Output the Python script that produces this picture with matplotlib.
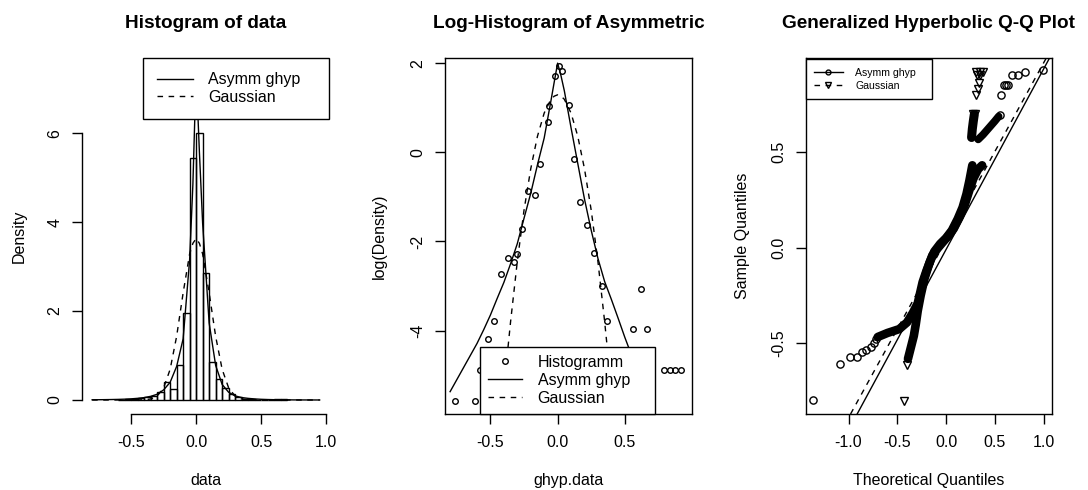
import numpy as np
import matplotlib
matplotlib.use('Agg')
import matplotlib.pyplot as plt

plt.rcParams['font.family'] = ['Liberation Sans', 'DejaVu Sans']
plt.rcParams['axes.unicode_minus'] = False

# histogram of the returns (bins of width 0.05)
hist_breaks = [-0.60, -0.55, -0.50, -0.45, -0.40, -0.35, -0.30, -0.25, -0.20,
               -0.15, -0.10, -0.05, 0.00, 0.05, 0.10, 0.15, 0.20, 0.25, 0.30,
               0.35, 0.40, 0.45, 0.50, 0.55, 0.60, 0.65, 0.70]
hist_density = [0.008, 0.012, 0.02, 0.04, 0.07, 0.08, 0.19, 0.41, 0.24, 0.79,
                1.96, 5.44, 6.00, 2.86, 0.86, 0.47, 0.28, 0.14, 0.07, 0.03,
                0.015, 0.008, 0.004, 0.0, 0.03, 0.012]

# fitted log-densities on the evaluation grid
grid_x = [-0.80, -0.75, -0.70, -0.65, -0.60, -0.55, -0.50, -0.45, -0.40, -0.35,
          -0.30, -0.25, -0.20, -0.15, -0.10, -0.05, -0.025, 0.00, 0.025, 0.05,
          0.10, 0.15, 0.20, 0.25, 0.30, 0.35, 0.40, 0.45, 0.50, 0.55, 0.60,
          0.65, 0.70, 0.75, 0.80, 0.85, 0.90, 0.95]
ghyp_logdens = [-5.37, -5.10, -4.83, -4.56, -4.29, -3.98, -3.65, -3.28, -2.92,
                -2.50, -2.05, -1.48, -0.92, -0.28, 0.32, 1.15, 1.58, 2.00, 1.72,
                1.38, 0.55, -0.25, -1.05, -1.75, -2.38, -2.90, -3.30, -3.72,
                -4.15, -4.55, -4.95, -5.35, -5.75, -6.15, -6.55, -6.95, -7.35,
                -7.75]
gauss_logdens = [-25.0, -22.0, -19.0, -16.2, -13.6, -11.2, -9.0, -7.1, -5.3,
                 -3.8, -2.45, -1.30, -0.37, 0.36, 0.88, 1.19, 1.26, 1.29, 1.26,
                 1.19, 0.88, 0.36, -0.37, -1.30, -2.45, -3.8, -5.3, -7.1, -9.0,
                 -11.2, -13.6, -16.2, -19.0, -22.0, -25.0, -28.5, -32.0, -35.5]

# empirical log-density of the data
loghist_x = [-0.764, -0.613, -0.579, -0.515, -0.473, -0.421, -0.367, -0.325,
             -0.305, -0.268, -0.219, -0.170, -0.128, -0.074, -0.067, -0.022,
             0.012, 0.032, 0.081, 0.121, 0.170, 0.219, 0.273, 0.328, 0.365,
             0.562, 0.623, 0.665, 0.788, 0.833, 0.877, 0.921]
loghist_y = [-5.57, -5.57, -4.88, -4.18, -3.79, -2.74, -2.37, -2.47, -2.29,
             -1.72, -0.86, -0.96, -0.26, 0.67, 1.03, 1.72, 1.93, 1.83, 1.06,
             -0.16, -1.12, -1.62, -2.25, -3.00, -3.79, -3.96, -3.07, -3.96,
             -4.88, -4.88, -4.88, -4.88]

# Q-Q plot: sparse tail points
qq_ghyp_x = [-1.366, -1.091, -0.988, -0.909, -0.858, -0.816, -0.771, -0.737,
             -0.713, 0.555, 0.569, 0.592, 0.612, 0.632, 0.672, 0.740, 0.809,
             0.990]
qq_ghyp_y = [-0.793, -0.606, -0.568, -0.568, -0.547, -0.533, -0.516, -0.498,
             -0.477, 0.690, 0.796, 0.847, 0.847, 0.850, 0.900, 0.903, 0.917,
             0.925]
qq_gauss_x = [-0.428, -0.404, 0.280, 0.300, 0.310, 0.325, 0.335, 0.320, 0.345,
              0.310, 0.345, 0.375]
qq_gauss_y = [-0.802, -0.611, 0.700, 0.700, 0.796, 0.830, 0.860, 0.900, 0.900,
              0.917, 0.917, 0.917]

# Q-Q plot: dense runs of points
band_ghyp_x = [-0.70, -0.60, -0.48, -0.40, -0.34, -0.29, -0.24, -0.20, -0.14,
               -0.08, -0.03, 0.03, 0.08, 0.14, 0.19, 0.24, 0.28, 0.33, 0.37]
band_ghyp_y = [-0.466, -0.445, -0.425, -0.390, -0.340, -0.290, -0.180, -0.120,
               -0.040, 0.000, 0.030, 0.065, 0.100, 0.160, 0.220, 0.300, 0.360,
               0.410, 0.430]
arm_ghyp_x = [0.33, 0.38, 0.44, 0.50, 0.54]
arm_ghyp_y = [0.565, 0.590, 0.625, 0.660, 0.685]
band_gauss_x = [-0.39, -0.36, -0.33, -0.31, -0.29, -0.26, -0.22, -0.17, -0.12,
                -0.06, 0.00, 0.06, 0.12, 0.17, 0.21, 0.24, 0.27]
band_gauss_y = [-0.580, -0.520, -0.460, -0.400, -0.330, -0.250, -0.160, -0.080,
                -0.020, 0.020, 0.050, 0.090, 0.150, 0.210, 0.280, 0.350, 0.430]
arm_gauss_x = [0.262, 0.270, 0.280, 0.290]
arm_gauss_y = [0.575, 0.620, 0.660, 0.695]

# qqline (intercept, slope)
qqline_ghyp = (-0.010, 0.9416)
qqline_gauss = (0.038, 0.9256)

DASH = (0, (4, 4))
TICK_FS = 11.5
TITLE_FS = 13.7


def r_axes(ax, box=True):
    ax.tick_params(direction='out', length=7, width=1, labelsize=TICK_FS,
                   top=False, right=False)
    ax.tick_params(axis='x', pad=8)
    ax.tick_params(axis='y', pad=7, labelrotation=90)
    for lab in ax.get_yticklabels():
        lab.set_va('center')
    for s in ax.spines.values():
        s.set_linewidth(1)
        s.set_visible(box)


fig = plt.figure(figsize=(10.88, 4.9), dpi=100)
W, H = 1088.0, 490.0

# --- histogram with fitted densities ---
ax1 = fig.add_axes([82 / W, 76 / H, 247 / W, 356 / H])
widths = np.diff(hist_breaks)
ax1.bar(hist_breaks[:-1], hist_density, width=widths, align='edge',
        fill=False, edgecolor='black', linewidth=1)
ax1.plot(grid_x, np.exp(ghyp_logdens), color='black', lw=1, label='Asymm ghyp')
ax1.plot(grid_x, np.exp(gauss_logdens), color='black', lw=1, ls=DASH,
         label='Gaussian')
ax1.set_xlim(-0.878, 1.022)
ax1.set_ylim(-0.315, 7.695)
ax1.set_xticks([-0.5, 0.0, 0.5, 1.0], ['-0.5', '0.0', '0.5', '1.0'])
ax1.set_yticks([0, 2, 4, 6], ['0', '2', '4', '6'])
r_axes(ax1, box=False)
ax1.spines['bottom'].set_visible(True)
ax1.spines['left'].set_visible(True)
ax1.spines['bottom'].set_bounds(-0.5, 1.0)
ax1.spines['left'].set_bounds(0, 6)
ax1.set_title('Histogram of data', fontsize=TITLE_FS, fontweight='bold',
              y=1.097, va='center', pad=0)
ax1.set_xlabel('data', fontsize=TICK_FS)
ax1.set_ylabel('Density', fontsize=TICK_FS)
ax1.legend(loc='upper left', bbox_to_anchor=(0.247, 0.0, 0.753, 1.0),
           mode='expand', borderaxespad=0, fancybox=False, edgecolor='black',
           framealpha=1, fontsize=TICK_FS, handlelength=2.2,
           handletextpad=1.0, borderpad=0.9, labelspacing=0.15)

# --- log histogram ---
ax2 = fig.add_axes([445 / W, 76 / H, 247 / W, 356 / H])
ax2.plot(loghist_x, loghist_y, ls='none', marker='o', ms=4, mfc='none',
         mec='black', mew=1, label='Histogramm')
ax2.plot(grid_x, ghyp_logdens, color='black', lw=1, label='Asymm ghyp')
ax2.plot(grid_x, gauss_logdens, color='black', lw=1, ls=DASH, label='Gaussian')
ax2.set_xlim(-0.838, 1.0)
ax2.set_ylim(-5.871, 2.116)
ax2.set_xticks([-0.5, 0.0, 0.5], ['-0.5', '0.0', '0.5'])
ax2.set_yticks([-4, -2, 0, 2], ['-4', '-2', '0', '2'])
r_axes(ax2)
ax2.set_title('Log-Histogram of Asymmetric', fontsize=TITLE_FS,
              fontweight='bold', y=1.097, va='center', pad=0)
ax2.set_xlabel('ghyp.data', fontsize=TICK_FS)
ax2.set_ylabel('log(Density)', fontsize=TICK_FS)
ax2.legend(loc='lower left', bbox_to_anchor=(0.142, 0.0, 0.709, 1.0),
           mode='expand', borderaxespad=0, fancybox=False, edgecolor='black',
           framealpha=1, fontsize=TICK_FS, handlelength=2.1,
           handletextpad=1.0, borderpad=0.5, labelspacing=0.2)

# --- Q-Q plot ---
ax3 = fig.add_axes([805.7 / W, 76 / H, 246 / W, 356 / H])
for bx, by, lw in [(band_ghyp_x, band_ghyp_y, 6.2), (arm_ghyp_x, arm_ghyp_y, 5.5),
                   (band_gauss_x, band_gauss_y, 6.2), (arm_gauss_x, arm_gauss_y, 6.5)]:
    ax3.plot(bx, by, color='black', lw=lw, solid_capstyle='round',
             solid_joinstyle='round')
ax3.plot(qq_ghyp_x, qq_ghyp_y, ls='none', marker='o', ms=5.2, mfc='none',
         mec='black', mew=1)
ax3.plot(qq_gauss_x, qq_gauss_y, ls='none', marker='v', ms=6, mfc='none',
         mec='black', mew=1)
ax3.axline((0, qqline_ghyp[0]), slope=qqline_ghyp[1], color='black', lw=1)
ax3.axline((0, qqline_gauss[0]), slope=qqline_gauss[1], color='black', lw=1,
           ls=DASH)
ax3.set_xlim(-1.439, 1.084)
ax3.set_ylim(-0.868, 0.99)
ax3.set_xticks([-1.0, -0.5, 0.0, 0.5, 1.0], ['-1.0', '-0.5', '0.0', '0.5', '1.0'])
ax3.set_yticks([-0.5, 0.0, 0.5], ['-0.5', '0.0', '0.5'])
r_axes(ax3)
ax3.set_title('Generalized Hyperbolic Q-Q Plot', fontsize=TITLE_FS,
              fontweight='bold', y=1.097, va='center', pad=0)
ax3.set_xlabel('Theoretical Quantiles', fontsize=TICK_FS)
ax3.set_ylabel('Sample Quantiles', fontsize=TICK_FS)
h1, = ax3.plot([], [], color='black', lw=1, marker='o', ms=3.5, mfc='none',
               mec='black')
h2, = ax3.plot([], [], color='black', lw=1, ls=DASH, marker='v', ms=4.5,
               mfc='none', mec='black')
ax3.legend([h1, h2], ['Asymm ghyp', 'Gaussian'], loc='upper left',
           bbox_to_anchor=(0.0, 0.0, 0.512, 0.996), mode='expand',
           borderaxespad=0, fancybox=False, edgecolor='black', framealpha=1,
           fontsize=7.6, handlelength=2.7, handletextpad=1.2, borderpad=0.8,
           labelspacing=0.3, numpoints=1)

# axis titles placed like R's mtext lines
for ax, yx in [(ax1, -0.223), (ax2, -0.235), (ax3, -0.226)]:
    ax.xaxis.set_label_coords(0.5, -0.165)
    ax.yaxis.set_label_coords(yx, 0.5)
    ax.xaxis.label.set_va('top')

fig.savefig('out.png', dpi=100)
